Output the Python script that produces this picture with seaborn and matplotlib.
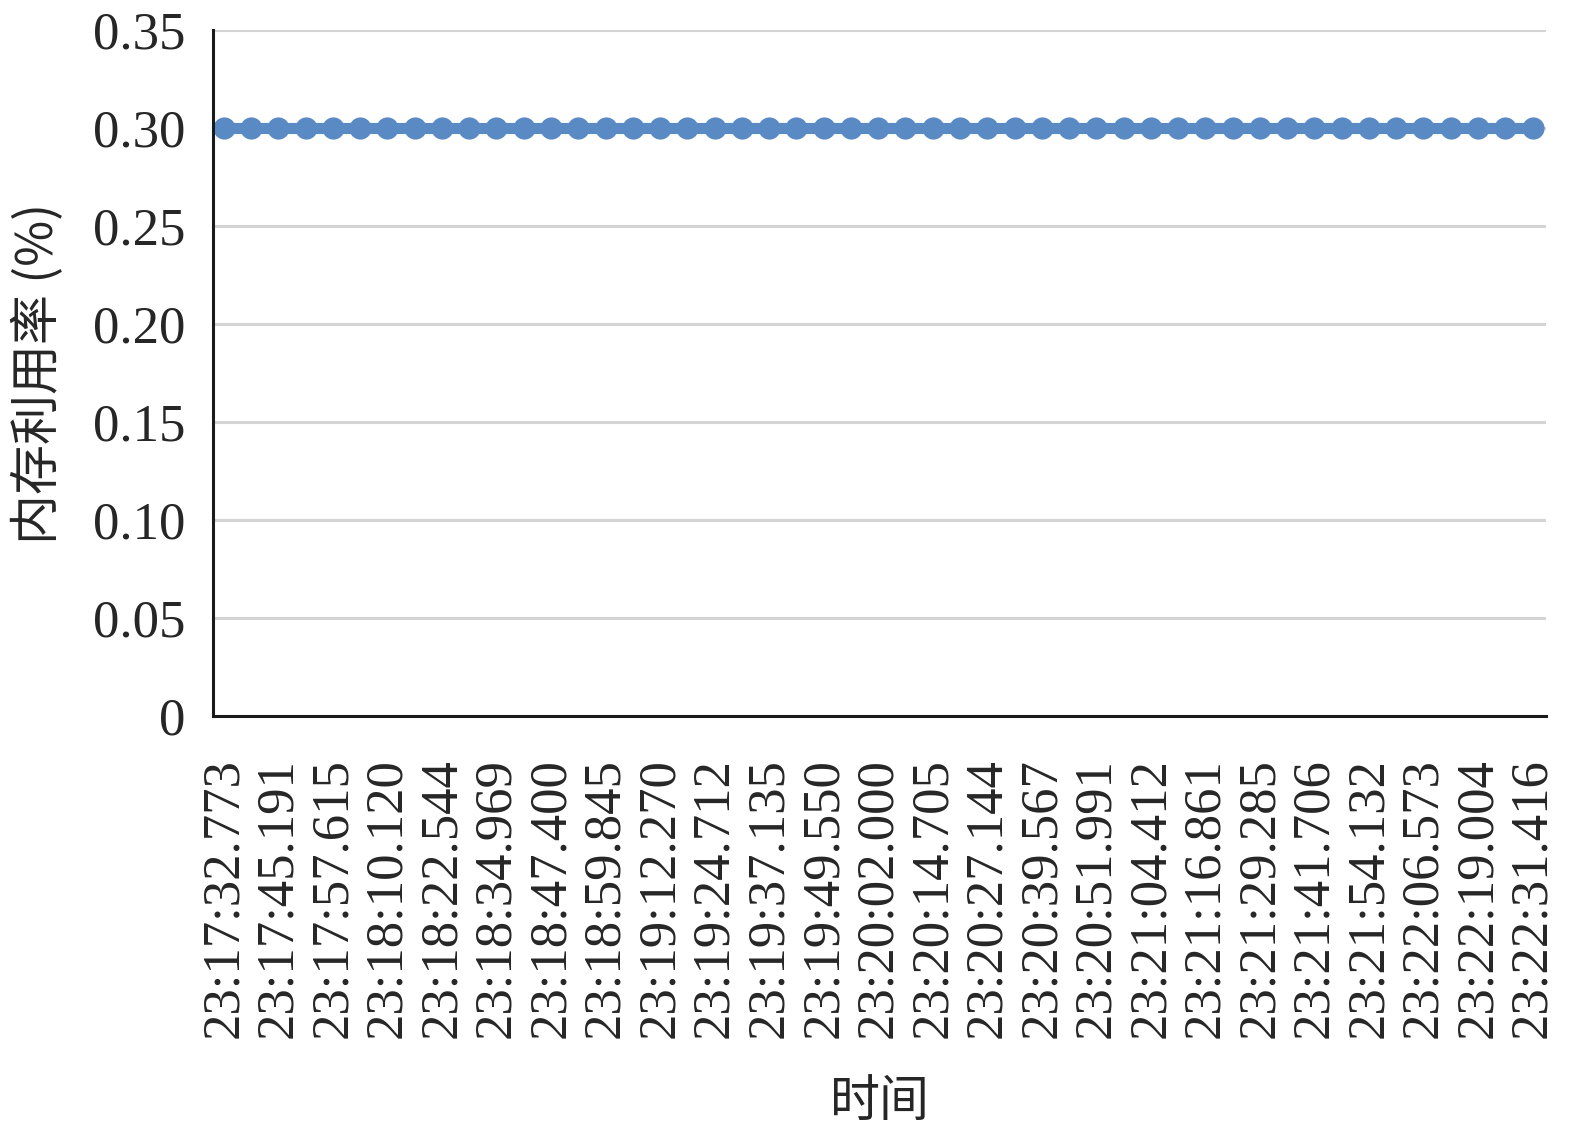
import matplotlib
matplotlib.use("Agg")
import matplotlib.pyplot as plt
import seaborn as sns
import pandas as pd

# memory usage samples (one every ~6.2 s), all at 0.30 %
usage = [0.30, 0.30, 0.30, 0.30, 0.30, 0.30, 0.30, 0.30, 0.30, 0.30,
         0.30, 0.30, 0.30, 0.30, 0.30, 0.30, 0.30, 0.30, 0.30, 0.30,
         0.30, 0.30, 0.30, 0.30, 0.30, 0.30, 0.30, 0.30, 0.30, 0.30,
         0.30, 0.30, 0.30, 0.30, 0.30, 0.30, 0.30, 0.30, 0.30, 0.30,
         0.30, 0.30, 0.30, 0.30, 0.30, 0.30, 0.30, 0.30, 0.30]

# labels shown on every second sample
time_labels = ["23:17:32.773", "23:17:45.191", "23:17:57.615", "23:18:10.120",
               "23:18:22.544", "23:18:34.969", "23:18:47.400", "23:18:59.845",
               "23:19:12.270", "23:19:24.712", "23:19:37.135", "23:19:49.550",
               "23:20:02.000", "23:20:14.705", "23:20:27.144", "23:20:39.567",
               "23:20:51.991", "23:21:04.412", "23:21:16.861", "23:21:29.285",
               "23:21:41.706", "23:21:54.132", "23:22:06.573", "23:22:19.004",
               "23:22:31.416"]

y_ticks = [0, 0.05, 0.10, 0.15, 0.20, 0.25, 0.30, 0.35]
y_tick_labels = ["0", "0.05", "0.10", "0.15", "0.20", "0.25", "0.30", "0.35"]

df = pd.DataFrame({"idx": range(len(usage)), "usage": usage})

sns.set_theme(style="white")
plt.rcParams["font.family"] = ["Liberation Serif", "Noto Sans CJK SC"]

fig = plt.figure(figsize=(15.75, 11.32), dpi=100)
ax = fig.add_axes([0.1352, 0.3675, 0.8465, 0.606])

sns.lineplot(data=df, x="idx", y="usage", ax=ax, color="#5a8ac4",
             linewidth=8, marker="o", markersize=16, markeredgewidth=0,
             zorder=3)

ax.set_xlim(-0.4, 48.5)
ax.set_ylim(0, 0.35)
ax.set_yticks(y_ticks)
ax.set_yticklabels(y_tick_labels, fontsize=38)
ax.set_xticks(range(0, len(usage), 2))
ax.set_xticklabels(time_labels, rotation=90, fontsize=38)

ax.tick_params(axis="y", direction="in", length=11, width=2.2, color="#1a1a1a", pad=20)
ax.tick_params(axis="x", length=0, pad=30)

ax.yaxis.grid(True, color="#d4d4d4", linewidth=2.2)
ax.set_axisbelow(True)
for s in ["top", "right"]:
    ax.spines[s].set_visible(False)
for s in ["left", "bottom"]:
    ax.spines[s].set_color("#1a1a1a")
    ax.spines[s].set_linewidth(2.2)
    ax.spines[s].set_zorder(4)

ax.set_xlabel("时间", fontsize=36, family=["Noto Sans CJK SC"], labelpad=28)
ax.set_ylabel("内存利用率 (%)", fontsize=36, family=["Noto Sans CJK SC", "Liberation Serif"], labelpad=20)

fig.savefig("out.png", dpi=100)
plt.close()
